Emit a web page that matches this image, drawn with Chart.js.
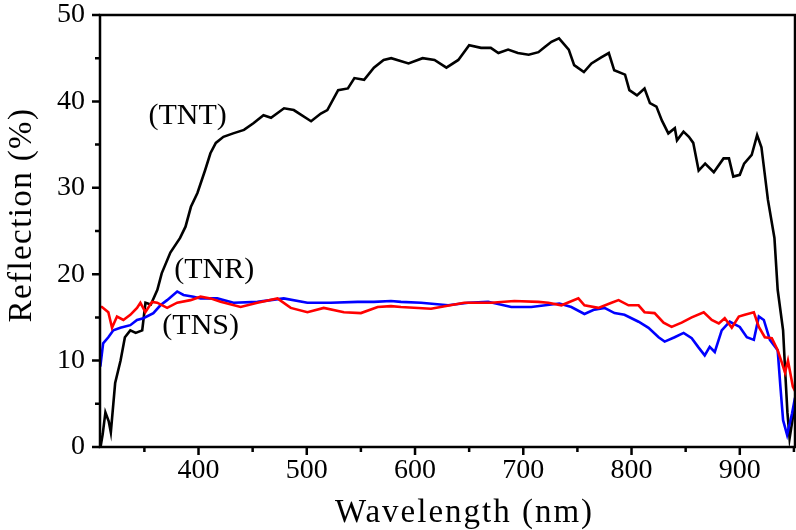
<!DOCTYPE html>
<html>
<head>
<meta charset="utf-8">
<script src="https://cdn.jsdelivr.net/npm/chart.js@4"></script>
<style>
html,body{margin:0;padding:0;background:#fff;}
#wrap{width:796px;height:530px;}
</style>
</head>
<body>
<div id="wrap"><canvas id="c" width="796" height="530"></canvas></div>
<script>
// ---- data (wavelength nm, reflection %) ----
const tnt = [[309.5,0],[311.5,1.5],[314,4],[317,3],[319,1.7],[323,7.4],[328,10],[332,12.7],[337,13.5],[342,13.2],[348,13.5],[351,16.7],[356,16.5],[362,18.2],[366,20.1],[374,22.5],[383,24.2],[388,25.5],[393,27.8],[399,29.4],[406,32],[411,34],[416,35.2],[423,35.9],[432,36.3],[442,36.7],[451,37.5],[460,38.4],[467,38.1],[479,39.2],[488,39],[504,37.7],[513,38.6],[519,39],[529,41.3],[538,41.5],[544,42.7],[553,42.5],[562,43.9],[571,44.8],[578,45],[594,44.4],[607,45],[618,44.8],[629,43.9],[640,44.8],[650,46.5],[661,46.2],[670,46.2],[677,45.6],[686,46],[695,45.6],[705,45.4],[714,45.7],[719,46.2],[726,46.9],[733,47.3],[742,46],[747,44.2],[756,43.4],[763,44.4],[772,45.1],[779,45.6],[784,43.6],[794,43.1],[798,41.3],[805,40.7],[812,41.5],[817,39.8],[823,39.4],[828,37.8],[834,36.3],[840,36.9],[842,35.5],[848,36.5],[853,35.9],[857,35.2],[862,32],[868,32.8],[876,31.8],[885,33.4],[890,33.4],[894,31.3],[900,31.5],[904,32.8],[911,33.8],[916,36.1],[920,34.7],[926,28.6],[932,24.2],[935,18.2],[940,13.5],[942,8.6],[944,4],[946,1],[948.5,3],[951,5]];
const tnr = [[309.5,16.2],[310.8,16.2],[316.7,15.6],[320.1,13.8],[324.7,15.1],[330.6,14.7],[337,15.3],[343.2,16.1],[346.3,16.7],[350.9,15.6],[357.1,16.8],[361.8,16.7],[371,16.1],[380.3,16.7],[392.6,17],[401.9,17.4],[411,17.2],[420.4,16.8],[438.9,16.2],[454.4,16.7],[472.9,17.2],[485.2,16.1],[500.6,15.6],[515.7,16.1],[534.3,15.6],[550,15.5],[565.5,16.2],[577.8,16.3],[587,16.2],[614.8,16],[645.4,16.7],[670.4,16.7],[691.7,16.9],[713.9,16.8],[723.1,16.7],[735.2,16.4],[750.9,17.2],[756.5,16.4],[769.4,16.1],[781.5,16.7],[788,17],[797.2,16.4],[806.5,16.4],[812,15.6],[821.3,15.5],[829.6,14.4],[837,13.9],[846.3,14.4],[855.6,15],[866.7,15.6],[874.1,14.7],[880.6,14.3],[886.1,14.9],[892.6,13.8],[899.1,15.1],[904.6,15.3],[913,15.6],[917.6,13.9],[923.1,12.7],[929.6,12.6],[935,11.2],[939,9.7],[941.8,8.6],[944.5,10],[949,7],[951,6.5]];
const tns = [[309.3,9.3],[311.9,12],[316.7,12.7],[321.3,13.5],[327.8,13.8],[337,14.1],[343.2,14.7],[349.1,14.9],[358.3,15.5],[364.8,16.4],[371,17],[380.3,18],[386.1,17.6],[395.4,17.4],[401.9,17.2],[417.3,17.2],[432.4,16.7],[454.4,16.8],[478.7,17.2],[500.6,16.7],[522.2,16.7],[547,16.8],[562,16.8],[577.8,16.9],[587,16.8],[605.6,16.7],[630.6,16.4],[649,16.7],[667.6,16.8],[688.9,16.2],[707.4,16.2],[733.3,16.6],[744.4,16.2],[756.5,15.4],[765.7,15.9],[775,16.1],[784.3,15.5],[793.5,15.3],[806.5,14.5],[815.7,13.8],[825,12.7],[830.6,12.2],[839.8,12.7],[848.1,13.2],[855.6,12.6],[862,11.5],[867.6,10.6],[872.2,11.6],[876.9,11],[883.3,13.5],[890.7,14.5],[900,13.9],[906.5,12.7],[913,12.4],[917.6,15.1],[922.2,14.7],[927.8,12.4],[935,11.2],[937.5,7],[940,3.1],[943.7,1.4],[948.3,3.9],[951,5.7]];

const xMajorTicks = [400,500,600,700,800,900];
const xMinorTicks = [350,450,550,650,750,850,950];
const yMajorTicks = [0,10,20,30,40,50];
const yMinorTicks = [5,15,25,35,45];
const seriesLabels = ['(TNT)','(TNR)','(TNS)'];
const xTitle = 'Wavelength (nm)';
const yTitle = 'Reflection (%)';
// label anchor points in data units (wavelength, reflection)
const labelAnchors = [[390,38.3],[414.5,20.5],[402,14]];

const toPts = a => a.map(p => ({x:p[0], y:p[1]}));

const frameTicks = {
  id:'frameTicks',
  afterDraw(chart){
    const ctx = chart.ctx, a = chart.chartArea;
    const xs = chart.scales.x, ys = chart.scales.y;
    ctx.save();
    ctx.strokeStyle = '#000';
    ctx.lineWidth = 2.5;
    ctx.strokeRect(a.left, a.top, a.right - a.left, a.bottom - a.top);
    ctx.beginPath();
    xMajorTicks.forEach(v => { const p = xs.getPixelForValue(v); ctx.moveTo(p, a.bottom); ctx.lineTo(p, a.bottom + 8); });
    xMinorTicks.forEach(v => { if (v < xs.min || v > xs.max) return; const p = xs.getPixelForValue(v); ctx.moveTo(p, a.bottom); ctx.lineTo(p, a.bottom + 5); });
    yMajorTicks.forEach(v => { const p = ys.getPixelForValue(v); ctx.moveTo(a.left, p); ctx.lineTo(a.left - 8, p); });
    yMinorTicks.forEach(v => { const p = ys.getPixelForValue(v); ctx.moveTo(a.left, p); ctx.lineTo(a.left - 5, p); });
    ctx.stroke();
    ctx.fillStyle = '#000';
    ctx.font = '30px "Liberation Serif"';
    ctx.textAlign = 'center';
    ctx.textBaseline = 'middle';
    seriesLabels.forEach((t,i) => {
      ctx.fillText(t, xs.getPixelForValue(labelAnchors[i][0]), ys.getPixelForValue(labelAnchors[i][1]));
    });
    // axis titles
    ctx.font = '33px "Liberation Serif"';
    ctx.textBaseline = 'alphabetic';
    if ('letterSpacing' in ctx) ctx.letterSpacing = '2px';
    ctx.fillText(xTitle, (a.left + a.right) / 2 + 17, 522);
    ctx.translate(31, (a.top + a.bottom) / 2 - 16);
    ctx.rotate(-Math.PI / 2);
    if ('letterSpacing' in ctx) ctx.letterSpacing = '1.4px';
    ctx.fillText(yTitle, 0, 0);
    ctx.restore();
  }
};

new Chart(document.getElementById('c'), {
  type:'line',
  data:{
    datasets:[
      {label:'TNR', data:toPts(tnr), borderColor:'#ff0000', borderWidth:2.6, pointRadius:0, tension:0, fill:false},
      {label:'TNS', data:toPts(tns), borderColor:'#0000ff', borderWidth:2.6, pointRadius:0, tension:0, fill:false},
      {label:'TNT', data:toPts(tnt), borderColor:'#000000', borderWidth:2.6, pointRadius:0, tension:0, fill:false}
    ]
  },
  options:{
    responsive:false,
    animation:false,
    devicePixelRatio:1,
    layout:{padding:{left:0,right:1,top:15,bottom:0}},
    plugins:{legend:{display:false}, tooltip:{enabled:false}},
    scales:{
      x:{
        type:'linear', min:309, max:951,
        afterBuildTicks(s){ s.ticks = xMajorTicks.map(v => ({value:v})); },
        afterFit(s){ s.height = 83; s.paddingLeft = 0; s.paddingRight = 0; },
        grid:{display:false, drawTicks:false},
        border:{display:false},
        ticks:{color:'#000', padding:7, maxRotation:0, autoSkip:false, font:{family:'"Liberation Serif"', size:28}},
        title:{display:false}
      },
      y:{
        type:'linear', min:0, max:50,
        afterBuildTicks(s){ s.ticks = yMajorTicks.map(v => ({value:v})); },
        afterFit(s){ s.width = 100; s.paddingTop = 0; s.paddingBottom = 0; },
        grid:{display:false, drawTicks:false},
        border:{display:false},
        ticks:{color:'#000', padding:15, font:{family:'"Liberation Serif"', size:28}},
        title:{display:false}
      }
    }
  },
  plugins:[frameTicks]
});
</script>
</body>
</html>
